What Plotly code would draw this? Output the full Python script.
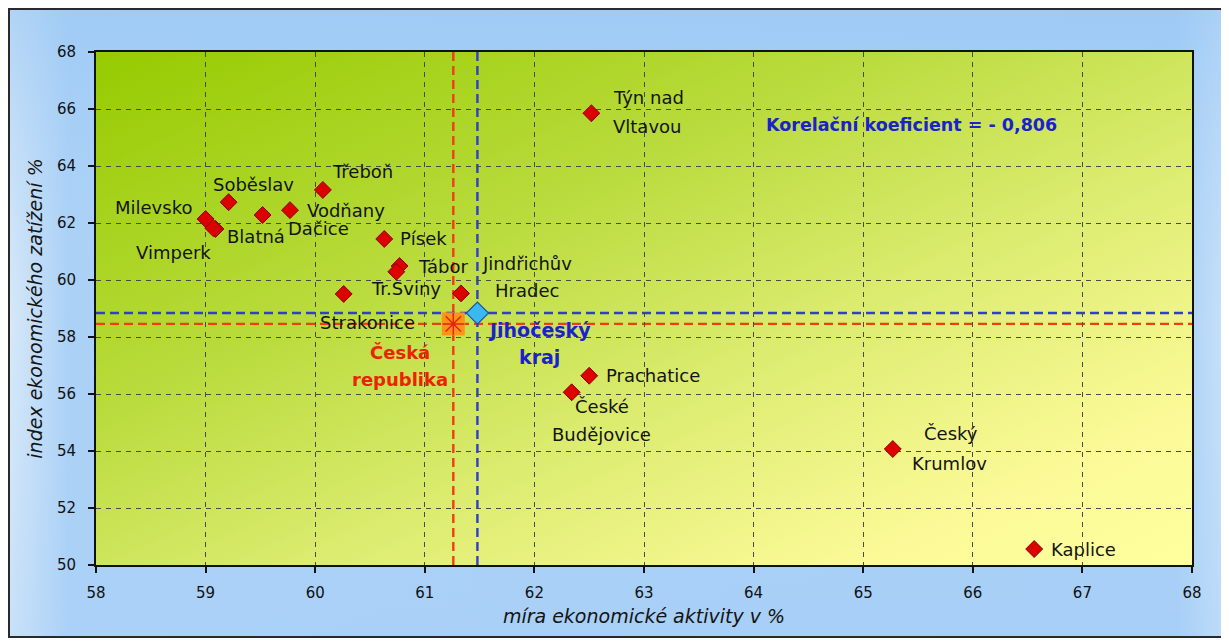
import base64
import plotly.graph_objects as go

# ---------------- data ----------------
towns = ["Týn nad Vltavou", "Třeboň", "Soběslav", "Milevsko", "Vodňany", "Dačice",
         "Blatná", "Vimperk", "Písek", "Tábor", "Tr.Sviny", "Strakonice",
         "Jindřichův Hradec", "Prachatice", "České Budějovice", "Český Krumlov", "Kaplice"]
activity = [62.52, 60.07, 59.21, 59.00, 59.77, 59.52,
            59.09, 59.07, 60.63, 60.77, 60.74, 60.26,
            61.33, 62.50, 62.34, 65.27, 66.56]
burden = [65.85, 63.16, 62.73, 62.14, 62.45, 62.28,
          61.79, 61.82, 61.44, 60.49, 60.29, 59.51,
          59.53, 56.64, 56.06, 54.07, 50.56]

cr_name = ["Česká", "republika"]
cr_x = [61.26]
cr_y = [58.46]
jc_name = ["Jihočeský", "kraj"]
jc_x = [61.48]
jc_y = [58.84]

corr_text = "Korelační koeficient = - 0,806"
x_title = "míra ekonomické aktivity v %"
y_title = "index ekonomického zatížení %"
x_ticks = [58, 59, 60, 61, 62, 63, 64, 65, 66, 67, 68]
y_ticks = [50, 52, 54, 56, 58, 60, 62, 64, 66, 68]

# ---------------- label styling (pixel offsets: dx right, dy down) ----------------
LABELS = {
    "Týn nad Vltavou": [("Týn nad", "left", 20, -16), ("Vltavou", "left", 20, 13)],
    "Třeboň": [("Třeboň", "left", 7, -18)],
    "Soběslav": [("Soběslav", "left", -18, -18)],
    "Milevsko": [("Milevsko", "right", -12, -12)],
    "Vodňany": [("Vodňany", "left", 15, 0)],
    "Dačice": [("Dačice", "left", 23, 13)],
    "Blatná": [("Blatná", "left", 10, 8)],
    "Vimperk": [("Vimperk", "right", 0, 24)],
    "Písek": [("Písek", "left", 14, 0)],
    "Tábor": [("Tábor", "left", 16, 0)],
    "Tr.Sviny": [("Tr.Sviny", "center", 10, 17)],
    "Strakonice": [("Strakonice", "center", 24, 29)],
    "Jindřichův Hradec": [("Jindřichův", "center", 66, -30), ("Hradec", "center", 66, -3)],
    "Prachatice": [("Prachatice", "left", 15, 0)],
    "České Budějovice": [("České", "center", 30, 14), ("Budějovice", "center", 30, 42)],
    "Český Krumlov": [("Český", "center", 58, -16), ("Krumlov", "center", 57, 14)],
    "Kaplice": [("Kaplice", "left", 15, 0)],
}

# the page body has an 8px margin, so the figure is laid out 8px in from the window corner
W, H = 1221, 634
ML, MR, MT, MB = 88, 37, 44, 77
PW, PH = W - ML - MR, H - MT - MB

FONT = "DejaVu Sans"


def svg_uri(svg):
    return "data:image/svg+xml;base64," + base64.b64encode(svg.encode("utf-8")).decode()


OW, OH = 1215, 630
outer_svg = f"""<svg xmlns='http://www.w3.org/2000/svg' width='{OW}' height='{OH}' viewBox='0 0 {OW} {OH}' preserveAspectRatio='none'>
<defs>
<linearGradient id='h' x1='0' y1='0' x2='1' y2='0'>
<stop offset='0' stop-color='#d8e9f9'/>
<stop offset='0.05' stop-color='#abd1f7'/>
<stop offset='0.96' stop-color='#a6cef7'/>
<stop offset='1' stop-color='#c6e0f9'/>
</linearGradient>
<linearGradient id='v' x1='0' y1='0' x2='0' y2='1'>
<stop offset='0' stop-color='#98c7f4' stop-opacity='0.6'/>
<stop offset='0.5' stop-color='#b0d4f7' stop-opacity='0'/>
<stop offset='1' stop-color='#a8d0f7' stop-opacity='0.3'/>
</linearGradient>
</defs>
<rect x='0' y='0' width='{OW}' height='{OH}' fill='url(#h)'/>
<rect x='0' y='0' width='{OW}' height='{OH}' fill='url(#v)'/>
<rect x='1' y='1' width='{OW - 2}' height='{OH - 2}' fill='none' stroke='#2a2a2a' stroke-width='2'/>
</svg>"""

plot_svg = f"""<svg xmlns='http://www.w3.org/2000/svg' width='{PW}' height='{PH}' viewBox='0 0 {PW} {PH}' preserveAspectRatio='none'>
<defs>
<linearGradient id='g' x1='0' y1='0' x2='1' y2='1'>
<stop offset='0' stop-color='#96cb00'/>
<stop offset='0.35' stop-color='#b9db3c'/>
<stop offset='0.6' stop-color='#dcec70'/>
<stop offset='0.85' stop-color='#fcfa98'/>
<stop offset='1' stop-color='#ffff9e'/>
</linearGradient>
</defs>
<rect x='0' y='0' width='{PW}' height='{PH}' fill='url(#g)'/>
</svg>"""

fig = go.Figure()

# reference lines (Czech Republic red, South Bohemian region blue)
RED, BLUE = "#f23c14", "#2e3fc8"
fig.add_vline(x=cr_x[0], layer="below", line=dict(color=RED, width=2.4, dash="9px,5px"))
fig.add_hline(y=cr_y[0], layer="below", line=dict(color=RED, width=2.4, dash="9px,5px"))
fig.add_vline(x=jc_x[0], layer="below", line=dict(color=BLUE, width=2.4, dash="9px,5px"))
fig.add_hline(y=jc_y[0], layer="below", line=dict(color=BLUE, width=2.4, dash="9px,5px"))

fig.add_trace(go.Scatter(
    x=activity, y=burden, mode="markers", name="ORP",
    marker=dict(symbol="diamond", size=13, color="#dd0000",
                line=dict(color="#8a0000", width=1)),
    hovertext=towns, hoverinfo="text+x+y", showlegend=False))

fig.add_trace(go.Scatter(
    x=cr_x, y=cr_y, mode="markers", showlegend=False,
    marker=dict(symbol="square", size=23, color="#ff9418",
                line=dict(color="#f08a10", width=0))))
fig.add_trace(go.Scatter(
    x=cr_x, y=cr_y, mode="markers", showlegend=False,
    marker=dict(symbol="asterisk-open", size=18, color="#e82010",
                line=dict(color="#e82010", width=1.5))))
fig.add_trace(go.Scatter(
    x=jc_x, y=jc_y, mode="markers", showlegend=False,
    marker=dict(symbol="diamond", size=17, color="#3ab8f0",
                line=dict(color="#1f4fb0", width=1.2))))

annotations = []
for name, xv, yv in zip(towns, activity, burden):
    for text, anchor, dx, dy in LABELS[name]:
        annotations.append(dict(
            x=xv, y=yv, xref="x", yref="y", text=text, showarrow=False,
            xanchor=anchor, yanchor="middle", xshift=dx, yshift=-dy,
            font=dict(family=FONT, size=18, color="#141414")))

for i, text in enumerate(cr_name):
    annotations.append(dict(
        x=cr_x[0], y=cr_y[0], xref="x", yref="y", text=f"<b>{text}</b>",
        showarrow=False, xanchor="center", yanchor="middle",
        xshift=-53, yshift=-(29 + 27 * i),
        font=dict(family=FONT, size=18, color="#ee2200")))
for i, text in enumerate(jc_name):
    annotations.append(dict(
        x=jc_x[0], y=jc_y[0], xref="x", yref="y", text=f"<b>{text}</b>",
        showarrow=False, xanchor="center", yanchor="middle",
        xshift=62, yshift=-(17 + 27 * i),
        font=dict(family=FONT, size=19, color="#1a22cc")))

annotations.append(dict(
    x=(764 - 8 - ML) / PW, y=(MT + PH - (125 - 8)) / PH, xref="paper", yref="paper",
    text=f"<b>{corr_text}</b>", showarrow=False, xanchor="left", yanchor="middle",
    font=dict(family=FONT, size=17.5, color="#1a22cc")))

fig.update_layout(
    width=W, height=H,
    margin=dict(l=ML, r=MR, t=MT, b=MB, pad=0),
    paper_bgcolor="white",
    plot_bgcolor="rgba(0,0,0,0)",
    showlegend=False,
    annotations=annotations,
    images=[
        dict(source=svg_uri(outer_svg), xref="paper", yref="paper",
             x=-ML / PW, y=(MT + PH) / PH,
             sizex=OW / PW, sizey=OH / PH,
             xanchor="left", yanchor="top", sizing="stretch", layer="below"),
        dict(source=svg_uri(plot_svg), xref="paper", yref="paper",
             x=0, y=1, sizex=1, sizey=1,
             xanchor="left", yanchor="top", sizing="stretch", layer="below"),
    ],
    xaxis=dict(
        range=[58, 68], tickvals=x_ticks, ticktext=[str(t) for t in x_ticks],
        showgrid=True, gridcolor="#4a4a4a", gridwidth=1, griddash="5px,5px",
        zeroline=False, showline=True, linecolor="#111", linewidth=2, mirror=True,
        ticks="outside", ticklen=6, tickcolor="#111", tickwidth=2,
        ticklabelstandoff=7,
        tickfont=dict(family=FONT, size=15, color="#111"),
        title=dict(text=f"<i>{x_title}</i>", standoff=9,
                   font=dict(family=FONT, size=19, color="#141414")),
    ),
    yaxis=dict(
        range=[50, 68], tickvals=y_ticks, ticktext=[str(t) for t in y_ticks],
        showgrid=True, gridcolor="#4a4a4a", gridwidth=1, griddash="5px,5px",
        zeroline=False, showline=True, linecolor="#111", linewidth=2, mirror=True,
        ticks="outside", ticklen=6, tickcolor="#111", tickwidth=2,
        ticklabelstandoff=9,
        tickfont=dict(family=FONT, size=15, color="#111"),
        title=dict(text=f"<i>{y_title}</i>", standoff=9,
                   font=dict(family=FONT, size=19, color="#141414")),
    ),
)

fig.write_html("out.html")
